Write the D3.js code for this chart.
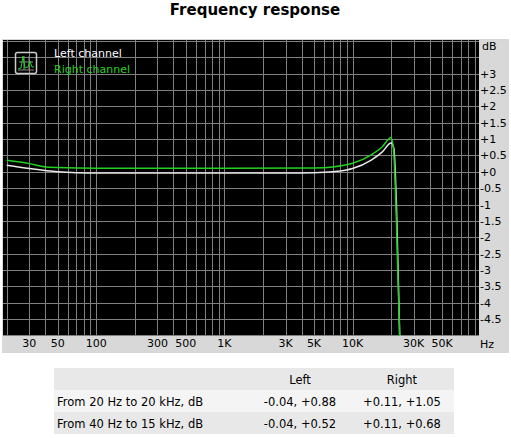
<!DOCTYPE html>
<html><head><meta charset="utf-8">
<script src="https://cdn.jsdelivr.net/npm/d3@7"></script>
<style>body{margin:0;background:#fff}svg{display:block;font-family:"DejaVu Sans",Verdana,sans-serif}</style>
</head><body>
<script>
var leftFreq = [20,30,50,70,100,1000,3000,5000,7000,10000,14000,17000,20000,21000,22000,23500]
var leftDb   = [0.2,0.1,0.0,-0.03,-0.04,-0.04,-0.04,-0.03,0.0,0.1,0.36,0.6,0.88,0.72,-1,-5.5]
var rightFreq = [20,30,40,50,100,1000,5000,7000,10000,14000,17000,20000,21000,21800,23500]
var rightDb   = [0.35,0.25,0.15,0.13,0.11,0.11,0.12,0.15,0.26,0.52,0.76,1.05,0.55,-1,-5.5]
var xTicks = [30,50,100,300,500,1000,3000,5000,10000,30000,50000]
var xTickLabels = ["30","50","100","300","500","1K","3K","5K","10K","30K","50K"]
var yTicks = [3,2.5,2,1.5,1,0.5,0,-0.5,-1,-1.5,-2,-2.5,-3,-3.5,-4,-4.5]
var tableHead = ["", "Left", "Right"]
var tableRows = [["From 20 Hz to 20 kHz, dB","-0.04, +0.88","+0.11, +1.05"],
                 ["From 40 Hz to 15 kHz, dB","-0.04, +0.52","+0.11, +0.68"]]

var svg = d3.select("body").append("svg").attr("width", 511).attr("height", 438)
svg.append("text").attr("x", 255).attr("y", 15).attr("text-anchor", "middle")
   .attr("font-weight", "bold").attr("font-size", 15).text("Frequency response")

var x = d3.scaleLog().domain([18.7, 97000]).range([3, 479])
var y = d3.scaleLinear().domain([-5.02, 4.03]).range([336, 40])

svg.append("rect").attr("x", 2).attr("y", 39).attr("width", 507).attr("height", 314).attr("fill", "#d8d8d8")
svg.append("rect").attr("x", 3).attr("y", 40).attr("width", 476).attr("height", 296).attr("fill", "#000")
svg.append("clipPath").attr("id", "c").append("rect").attr("x", 3).attr("y", 40).attr("width", 476).attr("height", 296)
var plot = svg.append("g").attr("clip-path", "url(#c)")

var vgrid = []
for (var d = 10; d <= 10000; d *= 10) for (var m = 1; m < 10; m++) if (d*m > 19 && d*m < 97000) vgrid.push(d*m)
plot.selectAll(".vg").data(vgrid).enter().append("line")
    .attr("x1", function(f){return Math.round(x(f))+0.5}).attr("x2", function(f){return Math.round(x(f))+0.5})
    .attr("y1", 40).attr("y2", 336).attr("stroke", "#808080")
var hgrid = d3.range(-5, 4.01, 0.5)
plot.selectAll(".hg").data(hgrid).enter().append("line")
    .attr("y1", function(v){return Math.round(y(v))+0.5}).attr("y2", function(v){return Math.round(y(v))+0.5})
    .attr("x1", 3).attr("x2", 479).attr("stroke", "#808080")

var line = d3.line().curve(d3.curveMonotoneX).x(function(d){return x(d[0])}).y(function(d){return y(d[1])})
plot.append("path").datum(d3.zip(leftFreq, leftDb)).attr("d", line).attr("fill", "none").attr("stroke", "#e8e8e8").attr("stroke-width", 1.5)
plot.append("path").datum(d3.zip(rightFreq, rightDb)).attr("d", line).attr("fill", "none").attr("stroke", "#22d022").attr("stroke-width", 1.5)

// legend
var lg = svg.append("g")
lg.append("rect").attr("x", 15.5).attr("y", 52.5).attr("width", 21).attr("height", 21).attr("rx", 2).attr("fill", "none").attr("stroke", "#ccc").attr("stroke-width", 1.5)
lg.append("path").attr("d", "M18,70h16M24,56v14M29,56v14M19,62h14").attr("stroke", "#888").attr("fill", "none")
lg.append("path").attr("d", "M18,69l3,-1l2,-12l2,12l3,-1l2,-6l2,6l2,0").attr("stroke", "#22d022").attr("fill", "none")
lg.append("text").attr("x", 54).attr("y", 57).attr("font-size", 11).attr("fill", "#fff").text("Left channel")
lg.append("text").attr("x", 54).attr("y", 73).attr("font-size", 11).attr("fill", "#22d022").text("Right channel")

// axes labels
var ax = svg.append("g").attr("font-size", 11).attr("fill", "#000")
ax.selectAll(".xt").data(xTicks).enter().append("text").attr("x", function(f){return x(f)}).attr("y", 347)
  .attr("text-anchor", "middle").text(function(f, i){return xTickLabels[i]})
ax.append("text").attr("x", 480).attr("y", 348).text("Hz")
ax.selectAll(".yt").data(yTicks).enter().append("text").attr("x", 480).attr("y", function(v){return y(v)+4})
  .text(function(v){return (v >= 0 ? "+" : "") + v})
ax.append("text").attr("x", 482).attr("y", 50).text("dB")

// table
var tb = svg.append("g").attr("font-size", 11.5)
var rowY = [368, 390, 412], fills = ["#e8e8e8", "#f4f4f4", "#e8e8e8"]
var rows = [tableHead].concat(tableRows)
rows.forEach(function(r, i) {
  tb.append("rect").attr("x", 54).attr("y", rowY[i]).attr("width", 400).attr("height", 22).attr("fill", fills[i])
  tb.append("text").attr("x", 57).attr("y", rowY[i]+16).text(r[0])
  tb.append("text").attr("x", 300).attr("y", rowY[i]+16).attr("text-anchor", "middle").text(r[1])
  tb.append("text").attr("x", 402).attr("y", rowY[i]+16).attr("text-anchor", "middle").text(r[2])
})
</script>
</body></html>
